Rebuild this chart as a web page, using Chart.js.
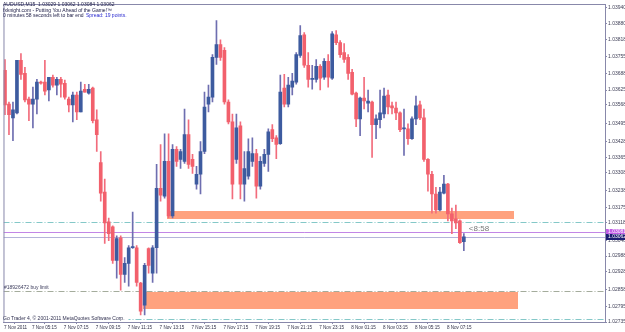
<!DOCTYPE html>
<html>
<head>
<meta charset="utf-8">
<script src="https://cdn.jsdelivr.net/npm/chart.js@4.4.0/dist/chart.umd.min.js"></script>
<style>
    html, body { margin: 0; padding: 0; background: #ffffff; }
    canvas { display: block; }
</style>
</head>
<body>
<canvas id="audChart" width="625" height="332"></canvas>
<script>
// AUDUSD M15 candles, bar 0 = 7 Nov 03:45
const opens = [
    1.03701, 1.03571, 1.03518, 1.03537, 1.03739, 1.03689, 1.03590, 1.03571, 1.03590, 1.03655,
    1.03655, 1.03625, 1.03674, 1.03644, 1.03666, 1.03651, 1.03590, 1.03568, 1.03606, 1.03541,
    1.03628, 1.03613, 1.03632, 1.03511, 1.03347, 1.03233, 1.03119, 1.03100, 1.02971, 1.03058,
    1.02918, 1.02960, 1.03020, 1.03020, 1.02884, 1.02800, 1.03017, 1.02922, 1.03020, 1.03248,
    1.03218, 1.03351, 1.03142, 1.03397, 1.03359, 1.03351, 1.03454, 1.03359, 1.03264, 1.03302,
    1.03389, 1.03571, 1.03598, 1.03750, 1.03799, 1.03777, 1.03579, 1.03503, 1.03359, 1.03488,
    1.03264, 1.03294, 1.03351, 1.03381, 1.03256, 1.03343, 1.03378, 1.03473, 1.03442, 1.03419,
    1.03632, 1.03571, 1.03636, 1.03655, 1.03758, 1.03837, 1.03720, 1.03666, 1.03666, 1.03716,
    1.03674, 1.03735, 1.03670, 1.03837, 1.03807, 1.03769, 1.03750, 1.03693, 1.03613, 1.03514,
    1.03594, 1.03575, 1.03579, 1.03492, 1.03511, 1.03533, 1.03606, 1.03564, 1.03556, 1.03537,
    1.03476, 1.03476, 1.03438, 1.03514, 1.03568, 1.03518, 1.03359, 1.03302, 1.03226, 1.03165,
    1.03229, 1.03264, 1.03150, 1.03131, 1.03123, 1.03043
];
const highs = [
    1.03742, 1.03579, 1.03579, 1.03739, 1.03765, 1.03712, 1.03598, 1.03636, 1.03666, 1.03659,
    1.03739, 1.03674, 1.03682, 1.03674, 1.03674, 1.03663, 1.03598, 1.03617, 1.03617, 1.03655,
    1.03647, 1.03647, 1.03636, 1.03549, 1.03389, 1.03283, 1.03134, 1.03104, 1.03066, 1.03066,
    1.02982, 1.03028, 1.03157, 1.03028, 1.02887, 1.02960, 1.03020, 1.03028, 1.03340, 1.03416,
    1.03457, 1.03457, 1.03416, 1.03408, 1.03397, 1.03552, 1.03511, 1.03378, 1.03332, 1.03427,
    1.03617, 1.03644, 1.03761, 1.03891, 1.03818, 1.03788, 1.03587, 1.03533, 1.03533, 1.03503,
    1.03389, 1.03438, 1.03442, 1.03397, 1.03370, 1.03397, 1.03476, 1.03492, 1.03450, 1.03682,
    1.03685, 1.03674, 1.03689, 1.03769, 1.03872, 1.03845, 1.03769, 1.03720, 1.03742, 1.03723,
    1.03746, 1.03761, 1.03849, 1.03853, 1.03815, 1.03803, 1.03761, 1.03704, 1.03617, 1.03598,
    1.03674, 1.03625, 1.03583, 1.03530, 1.03625, 1.03632, 1.03625, 1.03579, 1.03579, 1.03541,
    1.03552, 1.03495, 1.03522, 1.03602, 1.03583, 1.03552, 1.03362, 1.03313, 1.03252, 1.03252,
    1.03298, 1.03267, 1.03172, 1.03184, 1.03127, 1.03074
];
const lows = [
    1.03530, 1.03454, 1.03431, 1.03533, 1.03666, 1.03579, 1.03507, 1.03480, 1.03533, 1.03647,
    1.03606, 1.03583, 1.03636, 1.03606, 1.03598, 1.03590, 1.03541, 1.03503, 1.03511, 1.03541,
    1.03617, 1.03609, 1.03499, 1.03389, 1.03199, 1.03036, 1.03047, 1.02960, 1.02903, 1.02857,
    1.02887, 1.02872, 1.03017, 1.02872, 1.02762, 1.02762, 1.02922, 1.02887, 1.02922, 1.03199,
    1.03210, 1.03134, 1.03134, 1.03332, 1.03324, 1.03343, 1.03324, 1.03305, 1.03245, 1.03226,
    1.03381, 1.03541, 1.03579, 1.03723, 1.03739, 1.03571, 1.03495, 1.03207, 1.03343, 1.03207,
    1.03199, 1.03283, 1.03332, 1.03210, 1.03245, 1.03332, 1.03313, 1.03427, 1.03362, 1.03416,
    1.03560, 1.03560, 1.03606, 1.03647, 1.03750, 1.03712, 1.03636, 1.03628, 1.03655, 1.03625,
    1.03666, 1.03636, 1.03666, 1.03799, 1.03750, 1.03731, 1.03666, 1.03606, 1.03484, 1.03450,
    1.03552, 1.03541, 1.03366, 1.03438, 1.03480, 1.03518, 1.03533, 1.03533, 1.03511, 1.03465,
    1.03374, 1.03416, 1.03435, 1.03492, 1.03511, 1.03351, 1.03237, 1.03153, 1.03153, 1.03161,
    1.03226, 1.03123, 1.03074, 1.03093, 1.03036, 1.03009
];
const closes = [
    1.03568, 1.03530, 1.03549, 1.03739, 1.03685, 1.03587, 1.03571, 1.03590, 1.03655, 1.03651,
    1.03621, 1.03674, 1.03644, 1.03666, 1.03647, 1.03598, 1.03568, 1.03606, 1.03541, 1.03621,
    1.03617, 1.03628, 1.03507, 1.03454, 1.03229, 1.03115, 1.03074, 1.02971, 1.03055, 1.02918,
    1.02960, 1.03020, 1.03024, 1.02887, 1.02777, 1.02952, 1.02952, 1.03020, 1.03248, 1.03222,
    1.03351, 1.03142, 1.03397, 1.03351, 1.03389, 1.03454, 1.03340, 1.03332, 1.03302, 1.03389,
    1.03560, 1.03598, 1.03750, 1.03799, 1.03750, 1.03579, 1.03503, 1.03264, 1.03480, 1.03264,
    1.03324, 1.03389, 1.03381, 1.03256, 1.03351, 1.03378, 1.03465, 1.03438, 1.03416, 1.03617,
    1.03571, 1.03644, 1.03659, 1.03761, 1.03834, 1.03720, 1.03666, 1.03670, 1.03716, 1.03670,
    1.03735, 1.03674, 1.03841, 1.03807, 1.03761, 1.03742, 1.03689, 1.03609, 1.03514, 1.03594,
    1.03583, 1.03583, 1.03492, 1.03514, 1.03537, 1.03602, 1.03560, 1.03556, 1.03537, 1.03473,
    1.03480, 1.03438, 1.03514, 1.03564, 1.03518, 1.03359, 1.03302, 1.03226, 1.03165, 1.03233,
    1.03264, 1.03150, 1.03123, 1.03115, 1.03039, 1.03062
];

// price scale labels on the right
const priceTicks = [
    1.03940, 1.03880, 1.03818, 1.03755, 1.03688, 1.03625, 1.03568, 1.03495, 1.03428, 1.03365,
    1.03308, 1.03238, 1.03175, 1.03118, 1.03048, 1.02988, 1.02928, 1.02858, 1.02795, 1.02735
];

// time labels, by bar number (date label sits one bar left of the first candle)
const timeTickBars = [-1, 6, 14, 22, 30, 38, 46, 54, 62, 70, 78, 86, 94, 102, 110];
const timeTickLabels = [
    '7 Nov 2011', '7 Nov 05:15', '7 Nov 07:15', '7 Nov 09:15', '7 Nov 11:15', '7 Nov 13:15',
    '7 Nov 15:15', '7 Nov 17:15', '7 Nov 19:15', '7 Nov 21:15', '7 Nov 23:15',
    '8 Nov 01:15', '8 Nov 03:15', '8 Nov 05:15', '8 Nov 07:15'
];

// rectangles drawn on the chart (bar from/to, price top/bottom)
const zoneFrom = [41, 35];
const zoneTo = [127, 128];
const zoneTop = [1.03161, 1.02849];
const zoneBottom = [1.03131, 1.02785];

// horizontal lines
const askPrice = 1.03081;
const bidPrice = 1.03062;
const levelPrices = [1.03118, 1.02853, 1.02747];

const bullBody = '#3d5b9f', bearBody = '#f2606c';
const bullWick = '#6e6eb0', bearWick = '#f26c7c';

const isBull = opens.map((o, i) => closes[i] >= o);

const bodies = opens.map((o, i) => ({ x: i, y: [o, closes[i]] }));
const wicks = lows.map((l, i) => ({ x: i, y: [l, highs[i]] }));

const frameColor = '#8888aa';
const smallFont = '5px "Liberation Sans"';

function hLine(ctx, area, py, color, dash) {
    const yy = Math.round(py) + 0.5;
    ctx.strokeStyle = color;
    ctx.lineWidth = 1;
    ctx.setLineDash(dash);
    ctx.beginPath();
    ctx.moveTo(area.left, yy);
    ctx.lineTo(area.right, yy);
    ctx.stroke();
}

const overlays = {
    id: 'overlays',
    beforeDatasetsDraw(chart) {
        const { ctx, chartArea: a, scales: { x, y } } = chart;
        ctx.save();
        ctx.beginPath();
        ctx.rect(a.left, a.top, a.right - a.left, a.bottom - a.top);
        ctx.clip();

        // orange zones
        ctx.fillStyle = '#ffa27e';
        zoneFrom.forEach((f, i) => {
            const x0 = Math.round(x.getPixelForValue(f) - 2);
            const x1 = Math.round(x.getPixelForValue(zoneTo[i]) + 2);
            const y0 = Math.round(y.getPixelForValue(zoneTop[i]));
            const y1 = Math.round(y.getPixelForValue(zoneBottom[i]));
            ctx.fillRect(x0, y0, x1 - x0, y1 - y0);
        });

        // dash-dot levels
        const dashDot = [6, 2, 1, 2];
        hLine(ctx, a, y.getPixelForValue(levelPrices[0]), '#84c8c8', dashDot);
        hLine(ctx, a, y.getPixelForValue(levelPrices[1]), '#a4ac9c', dashDot);
        hLine(ctx, a, y.getPixelForValue(levelPrices[2]), '#84c8c8', dashDot);

        // ask / bid
        hLine(ctx, a, y.getPixelForValue(askPrice), '#c286e6', []);
        hLine(ctx, a, y.getPixelForValue(bidPrice), '#b4b4da', []);

        ctx.restore();
    },
    afterDraw(chart) {
        const { ctx, chartArea: a, scales: { x, y } } = chart;
        ctx.save();

        // frame
        ctx.strokeStyle = frameColor;
        ctx.lineWidth = 1;
        ctx.strokeRect(a.left + 0.5, a.top + 0.5, a.right - a.left, a.bottom - a.top);

        // header texts
        ctx.font = smallFont;
        ctx.textBaseline = 'middle';
        ctx.textAlign = 'left';
        ctx.fillStyle = '#202048';
        ctx.fillText('AUDUSD,M15  1.03029 1.03062 1.03084 1.03062', 3, 5);
        ctx.fillText('fxknight.com - Putting You Ahead of the Game!\u2122', 3, 10.5);
        ctx.fillText('0 minutes 58 seconds left to bar end', 3, 16);
        ctx.fillStyle = '#2b2bd0';
        ctx.fillText('Spread: 19 points.', 86, 16);

        // order label
        ctx.fillStyle = '#404060';
        ctx.fillText('#18926472 buy limit', 4, y.getPixelForValue(levelPrices[1]) - 4);

        // copyright
        const cy = y.getPixelForValue(levelPrices[2]);
        ctx.fillStyle = '#ffffff';
        ctx.fillRect(a.left + 1, cy - 3, 124, 6);
        ctx.fillStyle = '#303050';
        ctx.fillText('Go Trader 4, \u00a9 2001-2011 MetaQuotes Software Corp.', 3, cy);

        // bar countdown
        ctx.font = '8px "Liberation Sans"';
        ctx.fillStyle = '#777777';
        ctx.fillText('<8:58', x.getPixelForValue(116) + 1, y.getPixelForValue(askPrice) - 3);

        // highlighted ask / bid labels on price axis
        ctx.font = smallFont;
        [[askPrice, '#c25ee6'], [bidPrice, '#1e1e72']].forEach(([p, bg]) => {
            const py = Math.round(y.getPixelForValue(p));
            ctx.fillStyle = bg;
            ctx.fillRect(a.right + 1, py - 3, 625 - a.right, 6);
            ctx.fillStyle = '#ffffff';
            ctx.fillText(p.toFixed(5), a.right + 3, py);
        });

        ctx.restore();
    }
};

const ctx = document.getElementById('audChart').getContext('2d');
const audChart = new Chart(ctx, {
    type: 'bar',
    data: {
        datasets: [
            {
                label: 'body',
                data: bodies,
                backgroundColor: isBull.map(b => b ? bullBody : bearBody),
                borderWidth: 0,
                barThickness: 3,
                minBarLength: 1,
                grouped: false
            },
            {
                label: 'wick',
                data: wicks,
                backgroundColor: isBull.map(b => b ? bullWick : bearWick),
                borderWidth: 0,
                barThickness: 1,
                minBarLength: 1,
                grouped: false
            }
        ]
    },
    options: {
        responsive: false,
        animation: false,
        devicePixelRatio: 1,
        layout: { padding: { left: 2, top: 1, right: 0, bottom: 0 } },
        plugins: {
            legend: { display: false },
            tooltip: { enabled: false }
        },
        scales: {
            x: {
                type: 'linear',
                min: -0.375,
                max: 150.375,
                offset: false,
                grid: { display: true, drawOnChartArea: false, drawTicks: true, tickLength: 2, color: frameColor },
                border: { display: true, color: frameColor },
                ticks: {
                    autoSkip: false,
                    maxRotation: 0,
                    align: 'start',
                    labelOffset: 3,
                    padding: 1,
                    color: '#303048',
                    font: { size: 4.6, family: '"Liberation Sans"' },
                    callback: (v, i) => timeTickLabels[i]
                },
                afterBuildTicks: s => { s.ticks = timeTickBars.map(v => ({ value: v })); },
                afterFit: s => { s.height = 10; }
            },
            y: {
                position: 'right',
                min: 1.02735,
                max: 1.03955,
                grid: { display: true, drawOnChartArea: false, drawTicks: true, tickLength: 2, color: frameColor },
                border: { display: true, color: frameColor },
                ticks: {
                    autoSkip: false,
                    padding: 1,
                    color: '#404058',
                    font: { size: 5, family: '"Liberation Sans"' },
                    callback: v => v.toFixed(5)
                },
                afterBuildTicks: s => { s.ticks = priceTicks.map(v => ({ value: v })); },
                afterFit: s => { s.width = 20; }
            }
        }
    },
    plugins: [overlays]
});
</script>
</body>
</html>
